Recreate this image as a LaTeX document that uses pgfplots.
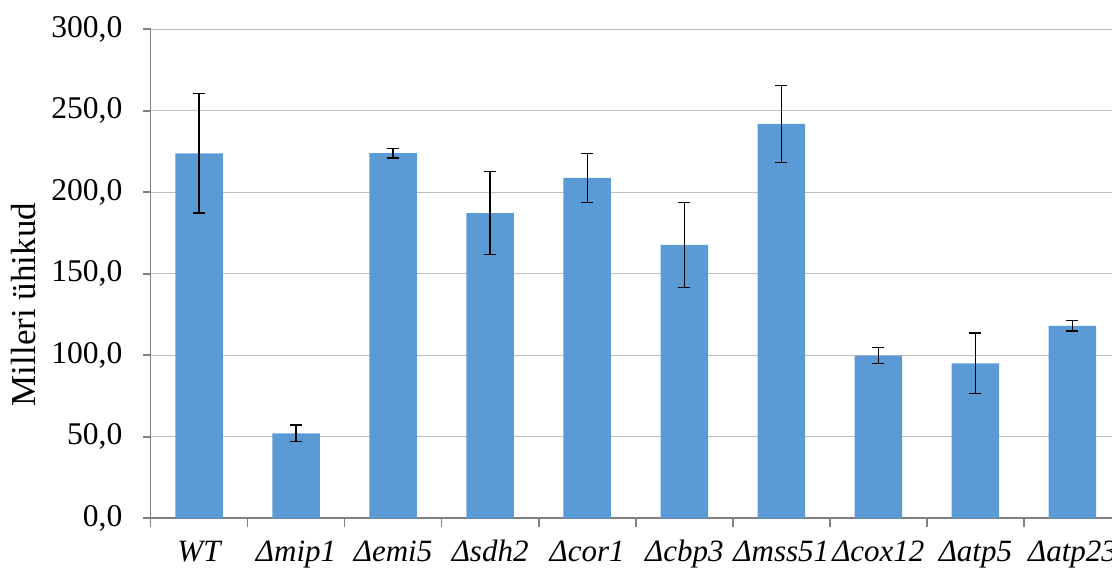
\documentclass[border=0pt]{standalone}
\usepackage{pgfplots}
\pgfplotsset{compat=1.18}
\usepackage{fontspec}
\setmainfont{Liberation Serif}
\definecolor{barblue}{HTML}{5B9BD5}
\definecolor{gridgray}{HTML}{BFBFBF}
\definecolor{axisgray}{HTML}{808080}
\begin{document}
\begin{tikzpicture}
\useasboundingbox (0,0) rectangle (556pt,286pt);
\begin{axis}[
  at={(75.25pt,26.85pt)}, anchor=south west,
  scale only axis, width=485.25pt, height=244.5pt,
  xmin=-0.5, xmax=9.5, ymin=0, ymax=300,
  axis lines*=left,
  axis line style={-, axisgray, line width=0.8pt},
  ytick={0,50,...,300},
  ymajorgrids, grid style={gridgray, line width=0.7pt},
  xtick={0,...,9},
  xticklabels={WT,Δmip1,Δemi5,Δsdh2,Δcor1,Δcbp3,Δmss51,Δcox12,Δatp5,Δatp23},
  xticklabel style={font=\fontsize{15.5}{18}\selectfont\itshape, text height=11pt, text depth=3.5pt},
  yticklabel style={font=\fontsize{15.8}{18}\selectfont, xshift=-6.5pt},
  minor xtick={-0.5,0.5,...,9.5},
  tick align=outside,
  major tick length=4pt, minor tick length=4.5pt,
  x tick style={draw=none},
  minor x tick style={axisgray, line width=0.8pt, draw=axisgray},
  y tick style={axisgray, line width=0.8pt},
  xticklabel shift=3pt,
  /pgf/number format/.cd, fixed, fixed zerofill, precision=1, use comma, 1000 sep={}, assume math mode=true,
  /pgfplots/.cd,
  ylabel={Milleri ühikud},
  ylabel style={font=\fontsize{17.5}{20}\selectfont, at={(axis description cs:-0.131,0.437)}, anchor=center, rotate=0},
  clip=false,
]
\addplot[ybar, bar width=23.75pt, fill=barblue, draw=none,
  error bars/.cd, y dir=both, y explicit,
  error bar style={black, line width=0.7pt},
  error mark options={rotate=90, mark size=3pt, line width=0.7pt, black}]
coordinates {
(0,223.9) +- (0,36.6)
(1,52.1) +- (0,5.1)
(2,224.0) +- (0,3.0)
(3,187.2) +- (0,25.5)
(4,208.8) +- (0,15.0)
(5,167.7) +- (0,26.0)
(6,241.9) +- (0,23.6)
(7,99.8) +- (0,5.0)
(8,95.1) +- (0,18.7)
(9,118.0) +- (0,3.2)
};
\end{axis}
\end{tikzpicture}
\end{document}
